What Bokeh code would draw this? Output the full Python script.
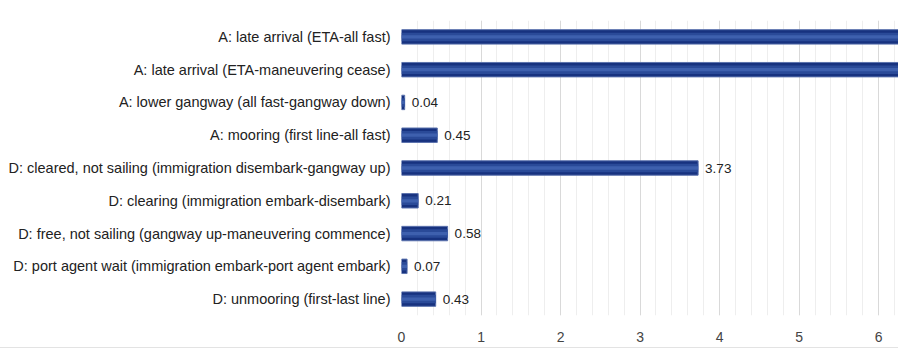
from bokeh.plotting import figure
from bokeh.models import ColumnDataSource, FactorRange, Range1d, SingleIntervalTicker, Div
from bokeh.layouts import column
from bokeh.core.properties import value
from bokeh.embed import file_html
from bokeh.resources import INLINE

categories = [
    "A: late arrival (ETA-all fast)",
    "A: late arrival (ETA-maneuvering cease)",
    "A: lower gangway (all fast-gangway down)",
    "A: mooring (first line-all fast)",
    "D: cleared, not sailing (immigration disembark-gangway up)",
    "D: clearing (immigration embark-disembark)",
    "D: free, not sailing (gangway up-maneuvering commence)",
    "D: port agent wait (immigration embark-port agent embark)",
    "D: unmooring (first-last line)",
]
values = [7.5, 7.2, 0.04, 0.45, 3.73, 0.21, 0.58, 0.07, 0.43]
labels = ["7.5", "7.2", "0.04", "0.45", "3.73", "0.21", "0.58", "0.07", "0.43"]

X_MAX = 6.25
FONT = "Liberation Sans"

src = ColumnDataSource(dict(cat=categories, val=values, lab=labels))
vis = [i for i, v in enumerate(values) if v < X_MAX]
lab_src = ColumnDataSource(dict(cat=[categories[i] for i in vis],
                                val=[values[i] for i in vis],
                                lab=[labels[i] for i in vis]))

p = figure(
    width=898, height=347,
    y_range=FactorRange(factors=list(reversed(categories)), range_padding=0),
    x_range=Range1d(0, X_MAX),
    output_backend="svg", toolbar_location=None,
    min_border_left=401, min_border_right=0, min_border_top=20, min_border_bottom=32,
)
p.outline_line_color = None

p.hbar(y="cat", right="val", left=0, height=0.44, source=src,
       fill_color="#17327f", line_color="#5b72ad", line_width=1)
p.hbar(y="cat", right="val", left=0, height=0.26, source=src,
       fill_color="#2a4a98", line_color=None)
p.hbar(y="cat", right="val", left=0, height=0.10, source=src,
       fill_color="#3e60ae", line_color=None)

p.text(x="val", y="cat", text="lab", source=lab_src, x_offset=7,
       text_baseline="middle", text_align="left",
       text_font=value(FONT), text_font_size="13.5px", text_color="#222222")

ticker = SingleIntervalTicker(interval=1, num_minor_ticks=5)
p.xaxis.ticker = ticker
p.xgrid.ticker = ticker
p.xgrid.grid_line_color = "#d9d9d9"
p.xgrid.minor_grid_line_color = "#eeeeee"
p.ygrid.grid_line_color = None

p.xaxis.axis_line_color = None
p.xaxis.major_tick_line_color = None
p.xaxis.minor_tick_line_color = None
p.xaxis.major_tick_out = 0
p.xaxis.major_label_standoff = 12
p.xaxis.major_label_text_font = FONT
p.xaxis.major_label_text_font_size = "14px"
p.xaxis.major_label_text_color = "#444444"

p.yaxis.axis_line_color = None
p.yaxis.major_tick_line_color = None
p.yaxis.major_tick_out = 0
p.yaxis.major_label_standoff = 11
p.yaxis.major_label_text_font = FONT
p.yaxis.major_label_text_font_size = "14.5px"
p.yaxis.major_label_text_color = "#222222"

divider = Div(width=898, height=1, margin=(0, 0, 0, 0),
              styles={"background-color": "#e3e3e3"})

layout = column(p, divider, spacing=0)
open("out.html", "w").write(file_html(layout, INLINE))
